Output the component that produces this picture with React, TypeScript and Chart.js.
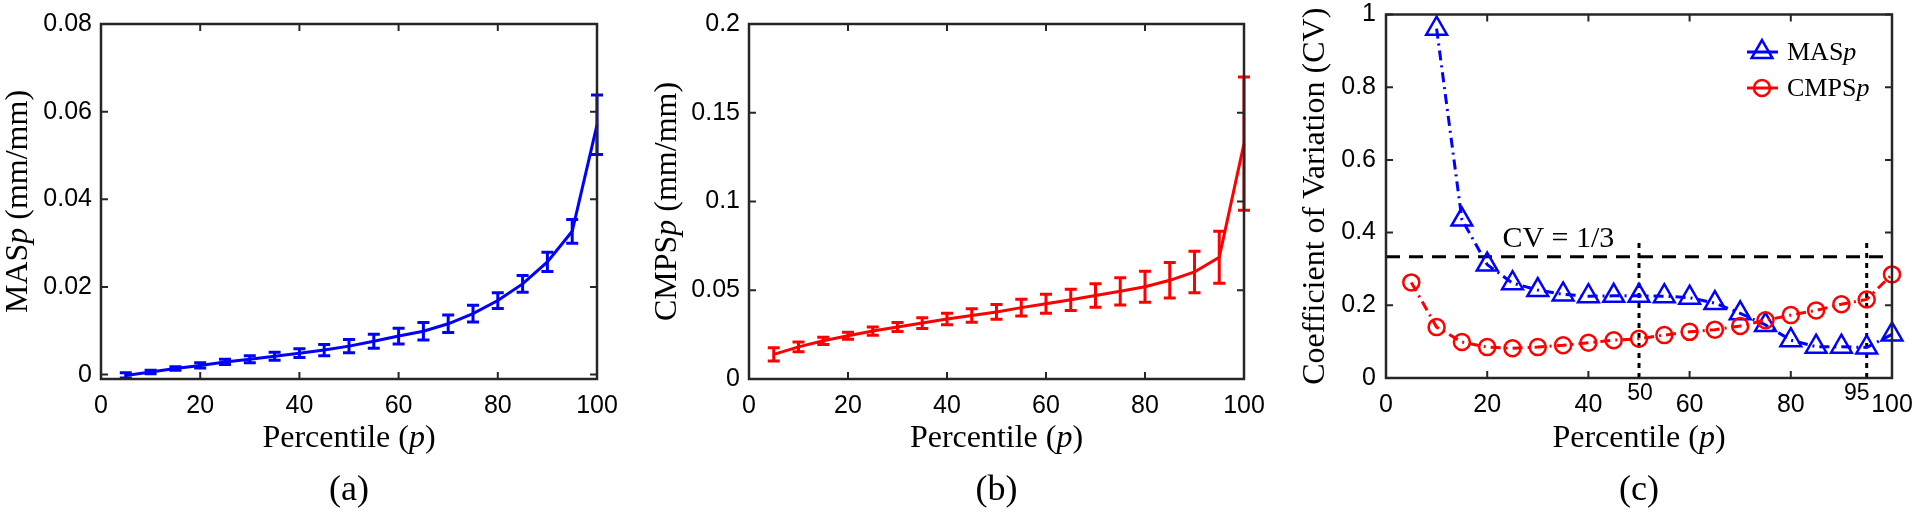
import React, { useEffect, useRef } from 'react';
import { Chart, registerables } from 'chart.js';

Chart.register(...registerables);

// ---------------- data ----------------
const PERCENTILE = [5, 10, 15, 20, 25, 30, 35, 40, 45, 50, 55, 60, 65, 70, 75, 80, 85, 90, 95, 100];

const MAS_MEAN = [-0.0002, 0.0006, 0.0014, 0.0021, 0.0029, 0.0035, 0.0042, 0.0049, 0.0056, 0.0065, 0.0076, 0.0088, 0.0099, 0.0116, 0.0139, 0.0169, 0.0207, 0.0257, 0.0327, 0.057];
const MAS_ERR = [0.0006, 0.0004, 0.0004, 0.0006, 0.0006, 0.0008, 0.0009, 0.001, 0.0013, 0.0015, 0.0016, 0.0018, 0.002, 0.002, 0.0019, 0.0018, 0.0019, 0.0022, 0.0027, 0.0068];

const CMPS_MEAN = [0.0139, 0.0181, 0.0215, 0.0244, 0.027, 0.0293, 0.0315, 0.0338, 0.0358, 0.0378, 0.0402, 0.0424, 0.0446, 0.047, 0.0494, 0.052, 0.0556, 0.0603, 0.0686, 0.1326];
const CMPS_ERR = [0.0037, 0.0027, 0.002, 0.002, 0.0023, 0.0025, 0.003, 0.0033, 0.0038, 0.0042, 0.0047, 0.0053, 0.006, 0.0066, 0.0077, 0.0087, 0.01, 0.0117, 0.0146, 0.0375];

const MAS_CV: (number | null)[] = [null, 0.961, 0.436, 0.312, 0.261, 0.242, 0.23, 0.225, 0.226, 0.226, 0.225, 0.221, 0.206, 0.178, 0.146, 0.104, 0.086, 0.086, 0.084, 0.12];
const CMPS_CV = [0.263, 0.14, 0.099, 0.085, 0.082, 0.085, 0.09, 0.097, 0.104, 0.108, 0.118, 0.127, 0.133, 0.143, 0.159, 0.173, 0.186, 0.203, 0.216, 0.285];

const X_TICKS = [0, 20, 40, 60, 80, 100];
const A_Y_TICKS = [0, 0.02, 0.04, 0.06, 0.08];
const A_Y_LABELS = ['0', '0.02', '0.04', '0.06', '0.08'];
const B_Y_TICKS = [0, 0.05, 0.1, 0.15, 0.2];
const B_Y_LABELS = ['0', '0.05', '0.1', '0.15', '0.2'];
const C_Y_TICKS = [0, 0.2, 0.4, 0.6, 0.8, 1];
const C_Y_LABELS = ['0', '0.2', '0.4', '0.6', '0.8', '1'];

const CV_THRESHOLD = 1 / 3;
const MARK_PERCENTILES = [50, 95];
const MARK_LINE_TOP = 0.375;
const CV_TEXT = 'CV = 1/3';

// ---------------- style ----------------
const W = 640;
const H = 514;
const SANS = '"Liberation Sans", Arial, Helvetica, sans-serif';
const SERIF = '"Liberation Serif", "Times New Roman", serif';
const AXIS = '#262626';
const BLUE = '#0000ff';
const RED = '#ff0000';

type Part = [string, boolean];

function drawRich(ctx: CanvasRenderingContext2D, parts: Part[], size: number, x: number, y: number, align: 'left' | 'center') {
  const widths = parts.map(([t, it]) => {
    ctx.font = `${it ? 'italic ' : ''}${size}px ${SERIF}`;
    return ctx.measureText(t).width;
  });
  const total = widths.reduce((a, b) => a + b, 0);
  let cx = align === 'center' ? x - total / 2 : x;
  ctx.textAlign = 'left';
  ctx.textBaseline = 'alphabetic';
  parts.forEach(([t, it], i) => {
    ctx.font = `${it ? 'italic ' : ''}${size}px ${SERIF}`;
    ctx.fillText(t, cx, y);
    cx += widths[i];
  });
}

type Panel = {
  left: number; right: number; top: number; bottom: number;
  yMin: number; yMax: number; yTicks: number[]; yLabels: string[]; yPad: number;
  yTitle: Part[]; yTitleX: number; caption: string;
};

function makeScales(p: Panel) {
  return {
    x: {
      type: 'linear', min: 0, max: 100,
      grid: { display: false, drawTicks: false },
      border: { display: false },
      afterBuildTicks: (ax: any) => { ax.ticks = X_TICKS.map((v) => ({ value: v })); },
      ticks: {
        autoSkip: false, maxRotation: 0, minRotation: 0, padding: 12, color: '#000',
        font: { family: SANS, size: 25 },
        callback: (v: any) => String(v),
      },
      afterFit: (ax: any) => { ax.height = H - p.bottom; ax.paddingLeft = 0; ax.paddingRight = 0; },
    },
    y: {
      type: 'linear', min: p.yMin, max: p.yMax,
      grid: { display: false, drawTicks: false },
      border: { display: false },
      afterBuildTicks: (ax: any) => { ax.ticks = p.yTicks.map((v) => ({ value: v })); },
      ticks: {
        autoSkip: false, padding: p.yPad, color: '#000',
        font: { family: SANS, size: 25 },
        callback: (v: any) => p.yLabels[p.yTicks.indexOf(v)] ?? '',
      },
      afterFit: (ax: any) => { ax.width = p.left; ax.paddingTop = 0; ax.paddingBottom = 0; },
    },
  };
}

function framePlugin(p: Panel) {
  return {
    id: 'frame',
    afterDraw(chart: any) {
      const { ctx, chartArea: a, scales } = chart;
      ctx.save();
      ctx.strokeStyle = AXIS;
      ctx.lineWidth = 2;
      ctx.setLineDash([]);
      const tl = 7;
      X_TICKS.forEach((v) => {
        const px = scales.x.getPixelForValue(v);
        ctx.beginPath();
        ctx.moveTo(px, a.bottom); ctx.lineTo(px, a.bottom - tl);
        ctx.moveTo(px, a.top); ctx.lineTo(px, a.top + tl);
        ctx.stroke();
      });
      p.yTicks.forEach((v) => {
        const py = scales.y.getPixelForValue(v);
        ctx.beginPath();
        ctx.moveTo(a.left, py); ctx.lineTo(a.left + tl, py);
        ctx.moveTo(a.right, py); ctx.lineTo(a.right - tl, py);
        ctx.stroke();
      });
      ctx.lineWidth = 2.5;
      ctx.strokeRect(a.left, a.top, a.right - a.left, a.bottom - a.top);

      ctx.fillStyle = '#000';
      const cx = (a.left + a.right) / 2;
      drawRich(ctx, [['Percentile (', false], ['p', true], [')', false]], 32, cx, 447, 'center');

      ctx.save();
      ctx.translate(p.yTitleX, (a.top + a.bottom) / 2);
      ctx.rotate(-Math.PI / 2);
      drawRich(ctx, p.yTitle, 32, 0, 0, 'center');
      ctx.restore();

      ctx.font = `36px ${SERIF}`;
      ctx.textAlign = 'center';
      ctx.textBaseline = 'alphabetic';
      ctx.fillText(p.caption, cx, 500);
      ctx.restore();
    },
  };
}

function errorBarPlugin(mean: number[], err: number[], color: string) {
  return {
    id: 'errbars',
    afterDatasetsDraw(chart: any) {
      const { ctx, scales } = chart;
      ctx.save();
      ctx.strokeStyle = color;
      ctx.lineWidth = 3;
      ctx.setLineDash([]);
      const cap = 6;
      PERCENTILE.forEach((x, i) => {
        const px = scales.x.getPixelForValue(x);
        const y1 = scales.y.getPixelForValue(mean[i] - err[i]);
        const y2 = scales.y.getPixelForValue(mean[i] + err[i]);
        ctx.beginPath();
        ctx.moveTo(px, y1); ctx.lineTo(px, y2);
        ctx.moveTo(px - cap, y1); ctx.lineTo(px + cap, y1);
        ctx.moveTo(px - cap, y2); ctx.lineTo(px + cap, y2);
        ctx.stroke();
      });
      ctx.restore();
    },
  };
}

function drawTriangle(ctx: CanvasRenderingContext2D, x: number, y: number, r: number) {
  ctx.beginPath();
  for (let k = 0; k < 3; k++) {
    const rad = (k * 2 * Math.PI) / 3;
    const px = x + Math.sin(rad) * r;
    const py = y - Math.cos(rad) * r;
    if (k === 0) ctx.moveTo(px, py); else ctx.lineTo(px, py);
  }
  ctx.closePath();
  ctx.stroke();
}

const cvPlugin = {
  id: 'cvextras',
  beforeDatasetsDraw(chart: any) {
    const { ctx, chartArea: a, scales } = chart;
    ctx.save();
    ctx.strokeStyle = '#000';
    ctx.lineWidth = 3;
    ctx.setLineDash([14, 9]);
    const hy = scales.y.getPixelForValue(CV_THRESHOLD);
    ctx.beginPath();
    ctx.moveTo(a.left, hy); ctx.lineTo(a.right, hy);
    ctx.stroke();
    ctx.setLineDash([5, 5]);
    MARK_PERCENTILES.forEach((m) => {
      const px = scales.x.getPixelForValue(m);
      ctx.beginPath();
      ctx.moveTo(px, scales.y.getPixelForValue(0));
      ctx.lineTo(px, scales.y.getPixelForValue(MARK_LINE_TOP));
      ctx.stroke();
    });
    ctx.setLineDash([]);
    ctx.fillStyle = '#000';
    ctx.font = `30px ${SERIF}`;
    ctx.textAlign = 'left';
    ctx.textBaseline = 'alphabetic';
    ctx.fillText(CV_TEXT, scales.x.getPixelForValue(23), scales.y.getPixelForValue(0.36));
    ctx.restore();
  },
  afterDraw(chart: any) {
    const { ctx, scales } = chart;
    ctx.save();
    // small annotation labels for 50 and 95
    ctx.fillStyle = '#000';
    ctx.font = `23px ${SANS}`;
    ctx.textAlign = 'center';
    ctx.textBaseline = 'middle';
    ctx.fillText('50', scales.x.getPixelForValue(50) + 1, 394);
    ctx.fillText('95', scales.x.getPixelForValue(95) - 10, 394);

    // legend
    const lx0 = 467, lx1 = 498, mx = 482;
    const rows: { y: number; color: string; shape: 'tri' | 'circ'; parts: Part[] }[] = [
      { y: 52, color: BLUE, shape: 'tri', parts: [['MAS', false], ['p', true]] },
      { y: 88, color: RED, shape: 'circ', parts: [['CMPS', false], ['p', true]] },
    ];
    rows.forEach((r) => {
      ctx.strokeStyle = r.color;
      ctx.lineWidth = 3;
      ctx.beginPath();
      ctx.moveTo(lx0, r.y); ctx.lineTo(lx1, r.y);
      ctx.stroke();
      ctx.lineWidth = 2.5;
      if (r.shape === 'tri') drawTriangle(ctx, mx, r.y, 12);
      else { ctx.beginPath(); ctx.arc(mx, r.y, 8, 0, Math.PI * 2); ctx.stroke(); }
      ctx.fillStyle = '#000';
      drawRich(ctx, r.parts, 26, 507, r.y + 8, 'left');
    });
    ctx.restore();
  },
};

const PANEL_A: Panel = {
  left: 101, right: 597, top: 24, bottom: 379,
  yMin: -0.001, yMax: 0.08, yTicks: A_Y_TICKS, yLabels: A_Y_LABELS, yPad: 9,
  yTitle: [['MAS', false], ['p', true], [' (mm/mm)', false]], yTitleX: 27, caption: '(a)',
};
const PANEL_B: Panel = {
  left: 109, right: 604, top: 24, bottom: 379,
  yMin: 0, yMax: 0.2, yTicks: B_Y_TICKS, yLabels: B_Y_LABELS, yPad: 9,
  yTitle: [['CMPS', false], ['p', true], [' (mm/mm)', false]], yTitleX: 36, caption: '(b)',
};
const PANEL_C: Panel = {
  left: 106, right: 612, top: 13, bottom: 378,
  yMin: 0, yMax: 1, yTicks: C_Y_TICKS, yLabels: C_Y_LABELS, yPad: 10,
  yTitle: [['Coefficient of Variation (CV)', false]], yTitleX: 44, caption: '(c)',
};

function baseOptions(p: Panel): any {
  return {
    responsive: false,
    maintainAspectRatio: false,
    animation: false,
    devicePixelRatio: 1,
    events: [],
    layout: { padding: { left: 0, top: p.top, right: W - p.right, bottom: 0 } },
    plugins: { legend: { display: false }, tooltip: { enabled: false }, title: { display: false } },
    scales: makeScales(p),
  };
}

function configA(): any {
  return {
    type: 'line',
    data: {
      datasets: [{
        data: PERCENTILE.map((x, i) => ({ x, y: MAS_MEAN[i] })),
        borderColor: BLUE, borderWidth: 3, pointRadius: 0, tension: 0, clip: false,
      }],
    },
    options: baseOptions(PANEL_A),
    plugins: [errorBarPlugin(MAS_MEAN, MAS_ERR, BLUE), framePlugin(PANEL_A)],
  };
}

function configB(): any {
  return {
    type: 'line',
    data: {
      datasets: [{
        data: PERCENTILE.map((x, i) => ({ x, y: CMPS_MEAN[i] })),
        borderColor: RED, borderWidth: 3, pointRadius: 0, tension: 0, clip: false,
      }],
    },
    options: baseOptions(PANEL_B),
    plugins: [errorBarPlugin(CMPS_MEAN, CMPS_ERR, RED), framePlugin(PANEL_B)],
  };
}

function configC(): any {
  return {
    type: 'line',
    data: {
      datasets: [
        {
          label: 'MASp',
          data: PERCENTILE.map((x, i) => ({ x, y: MAS_CV[i] })),
          borderColor: BLUE, borderWidth: 3, borderDash: [10, 5, 2, 5],
          pointStyle: 'triangle', pointRadius: 12, pointBorderWidth: 2.5,
          pointBorderColor: BLUE, pointBackgroundColor: 'rgba(0,0,0,0)',
          tension: 0, clip: false, spanGaps: false, order: 1,
        },
        {
          label: 'CMPSp',
          data: PERCENTILE.map((x, i) => ({ x, y: CMPS_CV[i] })),
          borderColor: RED, borderWidth: 3, borderDash: [10, 5, 2, 5],
          pointStyle: 'circle', pointRadius: 8, pointBorderWidth: 2.5,
          pointBorderColor: RED, pointBackgroundColor: 'rgba(0,0,0,0)',
          tension: 0, clip: false, order: 0,
        },
      ],
    },
    options: baseOptions(PANEL_C),
    plugins: [cvPlugin, framePlugin(PANEL_C)],
  };
}

function ChartCanvas({ make, left }: { make: () => any; left: number }) {
  const ref = useRef<HTMLCanvasElement>(null);
  useEffect(() => {
    const chart = new Chart(ref.current as HTMLCanvasElement, make());
    return () => chart.destroy();
  }, []);
  return (
    <canvas
      ref={ref}
      width={W}
      height={H}
      style={{ position: 'absolute', left, top: 0, width: W, height: H, display: 'block' }}
    />
  );
}

export default function App() {
  return (
    <div style={{ position: 'absolute', left: 0, top: 0, width: 1920, height: 514, background: '#fff', overflow: 'hidden' }}>
      <ChartCanvas make={configA} left={0} />
      <ChartCanvas make={configB} left={640} />
      <ChartCanvas make={configC} left={1280} />
    </div>
  );
}
